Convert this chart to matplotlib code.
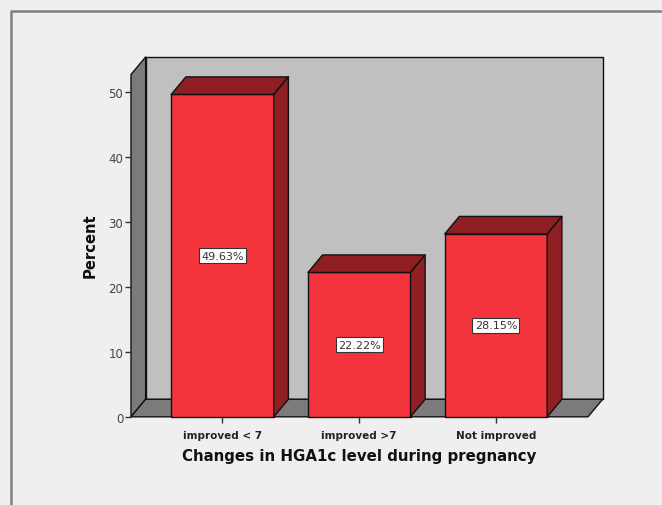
import numpy as np
import matplotlib
matplotlib.use('Agg')
import matplotlib.pyplot as plt
from matplotlib.patches import Polygon
from matplotlib.lines import Line2D

categories = ['improved < 7', 'improved >7', 'Not improved']
percent = [49.63, 22.22, 28.15]
labels = ['49.63%', '22.22%', '28.15%']
yticks = [0, 10, 20, 30, 40, 50]

W, H = 662, 506
bg = '#efefef'
red = '#f3343c'
dark = '#8f1f23'
edge = '#111111'

fig = plt.figure(figsize=(W/100, H/100), dpi=100, facecolor=bg)
# axes box in pixels of the front face
left, right, bottom, top = 131, 588, 417.8, 75.5
ax = fig.add_axes([left/W, 1-bottom/H, (right-left)/W, (bottom-top)/H])
ax.set_xlim(-0.669, 2.673)
ax.set_ylim(0, 52.7)
ax.patch.set_visible(False)
for s in ax.spines.values():
    s.set_visible(False)

dx, dy = 0.107, 2.7  # depth of the fake 3d
x0, x1 = ax.get_xlim()
ytop = ax.get_ylim()[1]

def face(pts, color, z):
    ax.add_patch(Polygon(pts, closed=True, facecolor=color, edgecolor=edge, lw=1.0,
                         joinstyle='round', zorder=z, clip_on=False))

# walls and floor
face([(x0+dx, dy), (x1+dx, dy), (x1+dx, ytop+dy), (x0+dx, ytop+dy)], '#c0c0c0', 1)
face([(x0, 0), (x0+dx, dy), (x0+dx, ytop+dy), (x0, ytop)], '#7b7b7b', 1)
face([(x0, 0), (x1, 0), (x1+dx, dy), (x0+dx, dy)], '#7b7b7b', 1)

w = 0.75
for i, v in enumerate(percent):
    a, b = i-w/2, i+w/2
    face([(a, 0), (b, 0), (b, v), (a, v)], red, 3)
    face([(a, v), (b, v), (b+dx, v+dy), (a+dx, v+dy)], dark, 3)
    face([(b, 0), (b+dx, dy), (b+dx, v+dy), (b, v)], dark, 3)
    ax.text(i, v/2, labels[i], ha='center', va='center', fontsize=8, color='#333333', zorder=5,
            bbox=dict(boxstyle='square,pad=0.2', facecolor='white', edgecolor='#333333', lw=0.8))

ax.set_xticks(range(3))
ax.set_xticklabels(categories, fontsize=7.5, fontweight='bold', color='#222222')
ax.set_yticks(yticks)
ax.set_yticklabels(yticks, fontsize=8.5, color='#444444')
ax.tick_params(axis='x', length=4.5, width=1, color='#333333', pad=5)
ax.tick_params(axis='y', length=4.5, width=1, color='#333333', pad=1)
ax.set_xlabel('Changes in HGA1c level during pregnancy', fontsize=10.8, fontweight='bold',
              color='#111111', labelpad=6)
ax.set_ylabel('Percent', fontsize=10.6, fontweight='bold', color='#111111')
ax.yaxis.set_label_coords(-0.072, 0.503)

# outer frame of the screenshot
fig.add_artist(Line2D([10.5/W, 10.5/W, 1], [0, 1-12/H, 1-12/H], color='#808080', lw=1.8))

fig.savefig('out.png', dpi=100, facecolor=bg)
